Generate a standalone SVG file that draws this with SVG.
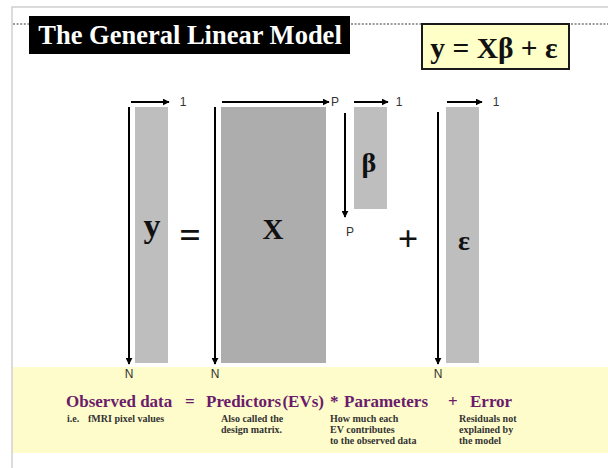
<svg xmlns="http://www.w3.org/2000/svg" width="608" height="468" viewBox="0 0 608 468">
<defs>
<marker id="ah" viewBox="0 0 10 10" refX="9" refY="5" markerWidth="3.5" markerHeight="3.5" orient="auto" markerUnits="strokeWidth">
<path d="M0,0 L10,5 L0,10 z" fill="#000"/>
</marker>
<style>
.frame{stroke:#cfcfcf;stroke-width:1.5;fill:none}
.dots{stroke:#9a9a9a;stroke-width:2;stroke-dasharray:2 1.6;fill:none}
.ar{stroke:#000;stroke-width:2;fill:none;marker-end:url(#ah)}
.mat{fill:#bebebe}
.matx{fill:#adadad}
.sym{font-family:"Liberation Serif","Times New Roman",serif;font-weight:bold;fill:#111;text-anchor:middle}
.lbl{font-family:"Liberation Sans",Arial,sans-serif;font-size:12px;fill:#333;text-anchor:middle}
.main{font-family:"Liberation Serif","Times New Roman",serif;font-weight:bold;font-size:17px;fill:#6a1b6a}
.small{font-family:"Liberation Serif","Times New Roman",serif;font-weight:bold;font-size:10px;fill:#333}
</style>
</defs>
<rect width="608" height="468" fill="#fff"/>
<rect x="12" y="367" width="596" height="86" fill="#fefccb"/>
<path class="frame" d="M12,468 V7 H608"/>
<path class="dots" d="M13,24 H29 M351,24 H421 M571,24 H608"/>

<g id="title">
<rect x="29" y="16" width="321" height="38" fill="#000"/>
<text x="190" y="44" font-family="'Liberation Serif','Times New Roman',serif" font-weight="bold" font-size="26.5" fill="#fff" text-anchor="middle">The General Linear Model</text>
</g>
<g id="equation">
<rect x="422" y="24" width="147" height="45" fill="#ffffc8" stroke="#1a1a1a" stroke-width="2"/>
<text class="sym" x="494" y="58" font-size="29.5">y = Xβ + ε</text>
</g>

<g id="y-matrix">
<rect class="mat" x="135" y="107" width="33" height="256"/>
<text class="sym" x="152" y="237" font-size="34">y</text>
<text class="lbl" x="183" y="106">1</text>
<text class="lbl" x="129" y="378">N</text>
</g>
<g id="equals"><text class="sym" x="190" y="248" font-size="38">=</text></g>
<g id="X-matrix">
<rect class="matx" x="221" y="107" width="105" height="256"/>
<text class="sym" x="273" y="239" font-size="29">X</text>
<text class="lbl" x="335" y="106">P</text>
<text class="lbl" x="215" y="378">N</text>
</g>
<g id="beta-matrix">
<rect class="mat" x="354" y="107" width="33" height="102"/>
<text class="sym" x="369" y="172" font-size="28">β</text>
<text class="lbl" x="399" y="106">1</text>
<text class="lbl" x="350" y="236">P</text>
</g>
<g id="plus"><text class="sym" x="408" y="251" font-size="36">+</text></g>
<g id="epsilon-matrix">
<rect class="mat" x="446" y="107" width="33" height="256"/>
<text class="sym" x="464" y="250" font-size="28">ε</text>
<text class="lbl" x="496" y="106">1</text>
<text class="lbl" x="438" y="378">N</text>
</g>

<g id="connectors">
<line class="ar" x1="131" y1="102" x2="169" y2="102"/>
<line class="ar" x1="129" y1="107" x2="129" y2="364"/>
<line class="ar" x1="222" y1="102" x2="329" y2="102"/>
<line class="ar" x1="215" y1="107" x2="215" y2="364"/>
<line class="ar" x1="354" y1="102" x2="388" y2="102"/>
<line class="ar" x1="345" y1="113" x2="345" y2="217"/>
<line class="ar" x1="447" y1="102" x2="482" y2="102"/>
<line class="ar" x1="438" y1="112" x2="438" y2="364"/>
</g>

<g id="legend">
<text class="main" x="66" y="407">Observed data</text>
<text class="main" x="185" y="407">=</text>
<text class="main" x="206" y="407" word-spacing="-3">Predictors (EVs)</text>
<text class="main" x="330" y="407">*</text>
<text class="main" x="344" y="407">Parameters</text>
<text class="main" x="448" y="407">+</text>
<text class="main" x="470" y="407">Error</text>
<text class="small" x="67" y="422">i.e.<tspan x="88">fMRI pixel values</tspan></text>
<text class="small" x="221" y="422">Also called the</text>
<text class="small" x="221" y="433">design matrix.</text>
<text class="small" x="330" y="422">How much each</text>
<text class="small" x="330" y="433">EV contributes</text>
<text class="small" x="330" y="444">to the observed data</text>
<text class="small" x="459" y="422">Residuals not</text>
<text class="small" x="459" y="433">explained by</text>
<text class="small" x="459" y="444">the model</text>
</g>
</svg>
